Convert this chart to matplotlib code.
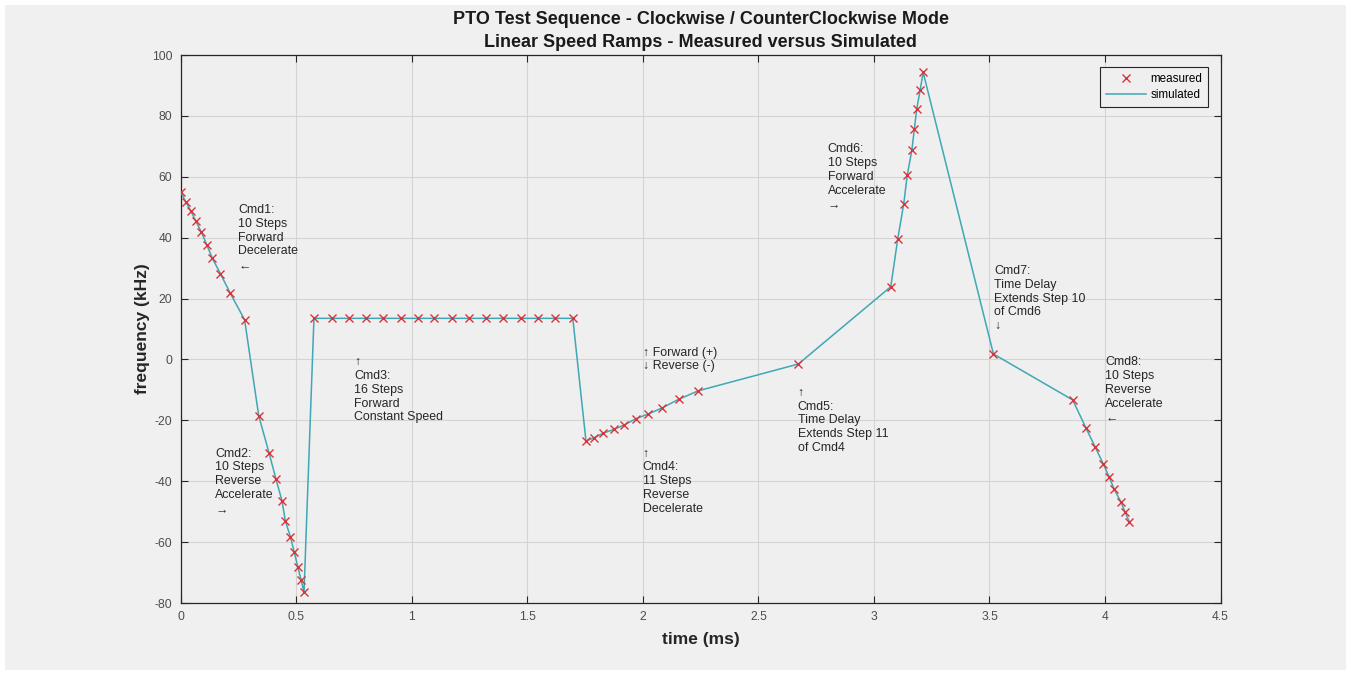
import matplotlib
matplotlib.use("Agg")
import matplotlib.pyplot as plt
from matplotlib.patches import Rectangle

# readings per command (time in ms, frequency in kHz)
cmd1_t = [0.0, 0.022, 0.044, 0.065, 0.090, 0.113, 0.137, 0.172, 0.214, 0.277]
cmd1_f = [55.1, 51.8, 48.8, 45.6, 41.8, 37.7, 33.3, 28.2, 21.9, 13.0]
cmd2_t = [0.338, 0.383, 0.413, 0.439, 0.453, 0.475, 0.492, 0.507, 0.522, 0.534]
cmd2_f = [-18.5, -30.8, -39.4, -46.5, -53.0, -58.2, -63.4, -68.1, -72.5, -76.5]
cmd3_t = [0.577, 0.654, 0.729, 0.804, 0.877, 0.952, 1.027, 1.098,
          1.173, 1.248, 1.323, 1.396, 1.472, 1.547, 1.621, 1.697]
cmd3_f = [13.5, 13.5, 13.5, 13.5, 13.5, 13.5, 13.5, 13.5,
          13.5, 13.5, 13.5, 13.5, 13.5, 13.5, 13.5, 13.5]
cmd4_t = [1.754, 1.790, 1.829, 1.874, 1.920, 1.969, 2.024, 2.084, 2.155, 2.240]
cmd4_f = [-26.8, -25.7, -24.2, -23.0, -21.5, -19.5, -17.9, -15.9, -13.1, -10.3]
cmd5_t = [2.673]
cmd5_f = [-1.5]
cmd6_t = [3.073, 3.103, 3.129, 3.144, 3.164, 3.175, 3.185, 3.200, 3.213]
cmd6_f = [23.9, 39.6, 51.1, 60.5, 68.7, 75.7, 82.2, 88.5, 94.3]
cmd7_t = [3.517]
cmd7_f = [1.8]
cmd8_t = [3.860, 3.918, 3.958, 3.993, 4.017, 4.040, 4.068, 4.087, 4.105]
cmd8_f = [-13.3, -22.6, -28.9, -34.4, -38.5, -42.7, -46.7, -50.2, -53.3]

meas_t = cmd1_t + cmd2_t + cmd3_t + cmd4_t + cmd5_t + cmd6_t + cmd7_t + cmd8_t
meas_f = cmd1_f + cmd2_f + cmd3_f + cmd4_f + cmd5_f + cmd6_f + cmd7_f + cmd8_f
sim_t = meas_t
sim_f = meas_f

x_ticks = [0, 0.5, 1, 1.5, 2, 2.5, 3, 3.5, 4, 4.5]
x_labels = ["0", "0.5", "1", "1.5", "2", "2.5", "3", "3.5", "4", "4.5"]
y_ticks = [-80, -60, -40, -20, 0, 20, 40, 60, 80, 100]

notes = [
    (0.25, 40, "Cmd1:\n10 Steps\nForward\nDecelerate\n\u2190"),
    (0.15, -40, "Cmd2:\n10 Steps\nReverse\nAccelerate\n\u2192"),
    (0.75, -10, "\u2191\nCmd3:\n16 Steps\nForward\nConstant Speed"),
    (2.0, 0, "\u2191 Forward (+)\n\u2193 Reverse (-)"),
    (2.0, -40, "\u2191\nCmd4:\n11 Steps\nReverse\nDecelerate"),
    (2.67, -20, "\u2191\nCmd5:\nTime Delay\nExtends Step 11\nof Cmd4"),
    (2.8, 60, "Cmd6:\n10 Steps\nForward\nAccelerate\n\u2192"),
    (3.52, 20, "Cmd7:\nTime Delay\nExtends Step 10\nof Cmd6\n\u2193"),
    (4.0, -10, "Cmd8:\n10 Steps\nReverse\nAccelerate\n\u2190"),
]

plt.rcParams["font.family"] = ["Liberation Sans", "DejaVu Sans"]
plt.rcParams["axes.unicode_minus"] = False

W, H = 1351, 675
fig = plt.figure(figsize=(W / 100, H / 100), dpi=100, facecolor="white")
fig.patches.append(Rectangle((5 / W, 5 / H), (W - 10) / W, (H - 10) / H,
                             transform=fig.transFigure, facecolor="#f0f0f0",
                             edgecolor="none", zorder=-10))
ax = fig.add_axes([180.6 / W, 72 / H, 1040 / W, 548 / H])
ax.set_facecolor("#efefef")

ax.plot(sim_t, sim_f, color="#3fa7b5", lw=1.1, label="simulated", zorder=3)
ax.plot(meas_t, meas_f, ls="none", marker="x", ms=5.5, mew=1.0,
        color="#d8343a", label="measured", zorder=4)

for x, y, s in notes:
    ax.text(x, y, s, ha="left", va="center", fontsize=8.9, color="#262626",
            linespacing=1.2)

ax.set_xlim(0, 4.5)
ax.set_ylim(-80, 100)
ax.set_xticks(x_ticks)
ax.set_xticklabels(x_labels)
ax.set_yticks(y_ticks)
ax.tick_params(direction="in", top=True, right=True, length=5, width=0.8,
               labelsize=8.7, labelcolor="#4d4d4d", color="#262626", pad=6)
ax.grid(True, color="#d4d4d4", lw=0.8)
ax.set_axisbelow(True)
for sp in ax.spines.values():
    sp.set_color("#262626")
    sp.set_linewidth(0.9)

ax.set_xlabel("time (ms)", fontsize=12.5, fontweight="bold", color="#262626", labelpad=6)
ax.set_ylabel("frequency (kHz)", fontsize=12.5, fontweight="bold", color="#262626", labelpad=1)
ax.set_title("PTO Test Sequence - Clockwise / CounterClockwise Mode\n"
             "Linear Speed Ramps - Measured versus Simulated",
             fontsize=13, fontweight="bold", color="#1a1a1a", pad=6, linespacing=1.4)

h, l = ax.get_legend_handles_labels()
leg = ax.legend(h[::-1], l[::-1], loc="upper right", bbox_to_anchor=(1 - 12.6 / 1040, 1 - 12 / 548),
                borderaxespad=0, fontsize=8.4, handlelength=3.4, handletextpad=0.4,
                fancybox=False, framealpha=1, facecolor="#efefef", edgecolor="#262626",
                borderpad=0.5, labelspacing=0.35)
leg.get_frame().set_linewidth(0.8)

fig.savefig("out.png", dpi=100, facecolor=fig.get_facecolor())
